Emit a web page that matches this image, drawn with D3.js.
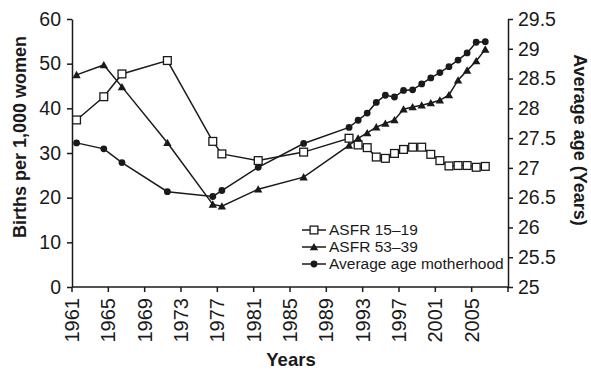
<!DOCTYPE html>
<html>
<head>
<meta charset="utf-8">
<script src="https://cdn.jsdelivr.net/npm/d3@7"></script>
<style>
  html, body { margin: 0; padding: 0; background: #fff; }
  svg { display: block; font-family: "Liberation Sans", Arial, Helvetica, sans-serif; }
</style>
</head>
<body>
<svg id="chart" width="591" height="370"></svg>
<script>
// Observation years shared by the three series
const years = [1961, 1964, 1966, 1971, 1976, 1977, 1981, 1986,
  1991, 1992, 1993, 1994, 1995, 1996, 1997, 1998, 1999, 2000,
  2001, 2002, 2003, 2004, 2005, 2006];

// Age-specific fertility rate, women 15–19 (births per 1,000 women)
const asfr1519 = [37.4, 42.6, 47.7, 50.7, 32.6, 29.8, 28.3, 30.2,
  33.3, 31.8, 31.2, 29.1, 28.8, 29.9, 30.8, 31.3, 31.3, 29.7,
  28.3, 27.1, 27.2, 27.2, 26.8, 27.0];

// Age-specific fertility rate, second group (births per 1,000 women)
const asfr3539 = [47.5, 49.7, 44.8, 32.3, 18.5, 18.1, 21.9, 24.6,
  31.7, 33.3, 34.5, 35.8, 36.6, 37.4, 39.8, 40.3, 40.7, 41.2,
  41.8, 43.0, 46.3, 48.5, 50.6, 53.2];

// Average age at motherhood (years, right axis)
const avgAge = [27.42, 27.32, 27.09, 26.60, 26.52, 26.62, 27.01, 27.41,
  27.68, 27.80, 27.92, 28.10, 28.22, 28.19, 28.30, 28.31, 28.41, 28.51,
  28.60, 28.70, 28.81, 28.93, 29.11, 29.12];

// Axis set-up
const yearSpan = d3.range(1961, 2009);          // one band per calendar year
const xLabelYears = [1961, 1965, 1969, 1973, 1977, 1981, 1985, 1989, 1993, 1997, 2001, 2005];
const leftTicks = [0, 10, 20, 30, 40, 50, 60];
const rightTicks = [25, 25.5, 26, 26.5, 27, 27.5, 28, 28.5, 29, 29.5];

const legendLabels = ["ASFR 15\u201319", "ASFR 53\u201339", "Average age motherhood"];

const svg = d3.select("#chart");
const ink = "#1a1a1a";

const plot = { left: 72, right: 508, top: 19, bottom: 287 };

const x = d3.scaleBand().domain(yearSpan).range([plot.left, plot.right]).padding(0);
const cx = yr => x(yr) + x.bandwidth() / 2;
const yL = d3.scaleLinear().domain([0, 60]).range([plot.bottom, plot.top]);
const yR = d3.scaleLinear().domain([25, 29.5]).range([plot.bottom, plot.top]);

// ---- axes ----
const fmtR = d => (d % 1 === 0 ? String(d) : d.toFixed(1));

const gL = svg.append("g").attr("transform", `translate(${plot.left},0)`)
  .call(d3.axisLeft(yL).tickValues(leftTicks).tickSize(5).tickPadding(6).tickSizeOuter(0));
const gR = svg.append("g").attr("transform", `translate(${plot.right},0)`)
  .call(d3.axisRight(yR).tickValues(rightTicks).tickFormat(fmtR).tickSize(5).tickPadding(5).tickSizeOuter(0));

// x axis: ticks at band boundaries every 4 years, plus closing tick
const xTickYears = xLabelYears.concat([2009]);
const xPos = yr => (yr === 2009 ? plot.right : x(yr));
const gX = svg.append("g");
gX.append("line")
  .attr("x1", plot.left).attr("x2", plot.right)
  .attr("y1", plot.bottom).attr("y2", plot.bottom)
  .attr("stroke", ink).attr("stroke-width", 1.5);
gX.selectAll("line.tick").data(xTickYears).join("line")
  .attr("class", "tick")
  .attr("x1", d => xPos(d)).attr("x2", d => xPos(d))
  .attr("y1", plot.bottom).attr("y2", plot.bottom + 5)
  .attr("stroke", ink).attr("stroke-width", 1.5);
gX.selectAll("text").data(xLabelYears).join("text")
  .attr("transform", d => `translate(${xPos(d)},${plot.bottom + 11}) rotate(-90)`)
  .attr("text-anchor", "end")
  .attr("dy", "0.35em")
  .attr("font-size", 20)
  .attr("fill", ink)
  .text(d => d);

[gL, gR].forEach(g => {
  g.select(".domain").attr("stroke", ink).attr("stroke-width", 1.5);
  g.selectAll(".tick line").attr("stroke", ink).attr("stroke-width", 1.5);
  g.selectAll(".tick text").attr("font-size", 19.5).attr("fill", ink)
    .attr("font-family", "Liberation Sans, Arial, Helvetica, sans-serif");
});

// ---- axis titles ----
svg.append("text")
  .attr("transform", "translate(26,137) rotate(-90)")
  .attr("text-anchor", "middle")
  .attr("font-size", 18).attr("font-weight", "bold").attr("fill", ink)
  .text("Births per 1,000 women");

svg.append("text")
  .attr("transform", "translate(574,140) rotate(90)")
  .attr("text-anchor", "middle")
  .attr("font-size", 18).attr("font-weight", "bold").attr("fill", ink)
  .text("Average age (Years)");

svg.append("text")
  .attr("x", 291).attr("y", 366)
  .attr("text-anchor", "middle")
  .attr("font-size", 18.5).attr("font-weight", "bold").attr("fill", ink)
  .text("Years");

// ---- series ----
const series = [
  { values: asfr1519, y: yL, marker: "square" },
  { values: asfr3539, y: yL, marker: "triangle" },
  { values: avgAge,  y: yR, marker: "circle" }
];

function drawMarker(g, kind, px, py) {
  if (kind === "square") {
    g.append("rect")
      .attr("x", px - 3.9).attr("y", py - 3.9)
      .attr("width", 7.8).attr("height", 7.8)
      .attr("fill", "#fff").attr("stroke", ink).attr("stroke-width", 1.3);
  } else if (kind === "triangle") {
    g.append("path")
      .attr("d", `M${px},${py - 4} L${px + 4.2},${py + 3.3} L${px - 4.2},${py + 3.3} Z`)
      .attr("fill", ink);
  } else {
    g.append("circle").attr("cx", px).attr("cy", py).attr("r", 3.4).attr("fill", ink);
  }
}

series.forEach(s => {
  const pts = years.map((yr, i) => [cx(yr), s.y(s.values[i])]);
  const g = svg.append("g");
  g.append("path")
    .attr("d", d3.line()(pts))
    .attr("fill", "none").attr("stroke", ink).attr("stroke-width", 1.5);
  pts.forEach(p => drawMarker(g, s.marker, p[0], p[1]));
});

// ---- legend ----
const legend = svg.append("g");
series.forEach((s, i) => {
  const ly = 230 + i * 17;
  legend.append("line")
    .attr("x1", 302).attr("x2", 326).attr("y1", ly).attr("y2", ly)
    .attr("stroke", ink).attr("stroke-width", 1.5);
  drawMarker(legend, s.marker, 314, ly);
  legend.append("text")
    .attr("x", 329).attr("y", ly).attr("dy", "0.35em")
    .attr("font-size", 15.5).attr("fill", ink)
    .text(legendLabels[i]);
});
</script>
</body>
</html>
